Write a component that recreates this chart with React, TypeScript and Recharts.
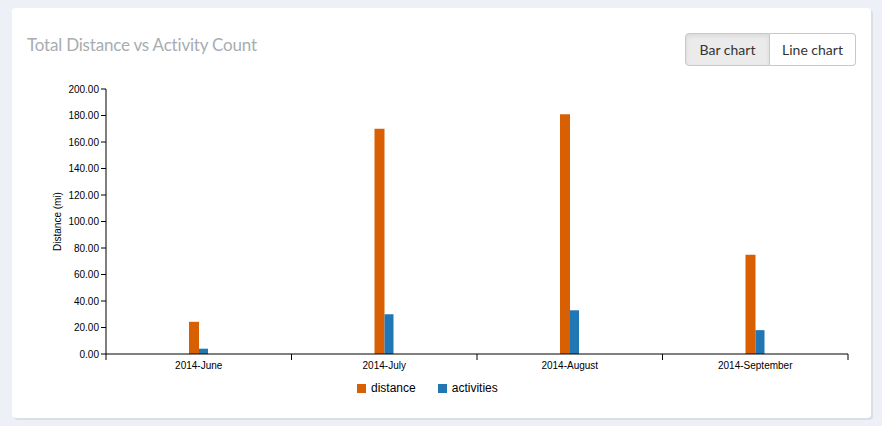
import { BarChart, Bar, XAxis, YAxis } from 'recharts';

const months = ['2014-June', '2014-July', '2014-August', '2014-September'];
const distance = [24.3, 170, 181, 75];
const activities = [4, 30, 33, 18];
const yTicks = [0, 20, 40, 60, 80, 100, 120, 140, 160, 180, 200];

const data = months.map((month, i) => ({
  month,
  distance: distance[i],
  activities: activities[i],
}));

const ORANGE = '#d96002';
const BLUE = '#2077b4';
const AXIS_FONT = '"Liberation Sans", Arial, Helvetica, sans-serif';

// label + tick lines at the band edges (d3 style), not at the band centre
function MonthTick(props: any) {
  const { x, y, payload, index } = props;
  const half = payload.offset || 0;
  const top = y - 8;
  return (
    <g>
      {index === 0 && (
        <line x1={x - half} x2={x - half} y1={top} y2={top + 6} stroke="#000" />
      )}
      <line x1={x + half} x2={x + half} y1={top} y2={top + 6} stroke="#000" />
      <text x={x} y={y} dy="0.71em" textAnchor="middle" fontSize={10} fill="#000" fontFamily={AXIS_FONT}>
        {payload.value}
      </text>
    </g>
  );
}

export default function App() {
  return (
    <div
      style={{
        position: 'absolute',
        left: 0,
        top: 0,
        width: 882,
        height: 426,
        background: '#edf0f7',
        overflow: 'hidden',
      }}
    >
      <div
        style={{
          position: 'absolute',
          left: 12,
          top: 8,
          width: 859,
          height: 410,
          background: '#fff',
          borderRadius: 4,
          boxShadow: '2px 2px 0 #dadee6',
        }}
      />
      <div
        style={{
          position: 'absolute',
          left: 27,
          top: 34,
          fontFamily: 'Lato, sans-serif',
          fontSize: 17,
          color: '#a7adb1',
          letterSpacing: -0.2,
        }}
      >
        Total Distance vs Activity Count
      </div>
      <div
        style={{
          position: 'absolute',
          left: 685,
          top: 33,
          display: 'flex',
          fontFamily: 'Lato, sans-serif',
          fontSize: 14,
          color: '#333',
        }}
      >
        <div
          style={{
            width: 83,
            height: 31,
            lineHeight: '31px',
            textAlign: 'center',
            background: '#ebebeb',
            border: '1px solid #c8c8c8',
            borderRadius: '4px 0 0 4px',
            boxShadow: 'inset 0 2px 4px rgba(0,0,0,0.08)',
            boxSizing: 'content-box',
          }}
        >
          Bar chart
        </div>
        <div
          style={{
            width: 85,
            height: 31,
            lineHeight: '31px',
            textAlign: 'center',
            background: '#fff',
            border: '1px solid #c8c8c8',
            borderLeft: 'none',
            borderRadius: '0 4px 4px 0',
          }}
        >
          Line chart
        </div>
      </div>

      <div style={{ position: 'absolute', left: 0, top: 0 }}>
        <BarChart
          width={882}
          height={426}
          data={data}
          margin={{ top: 89, right: 34, left: 46, bottom: 42 }}
          barGap={0}
          barCategoryGap={0}
        >
          <XAxis
            dataKey="month"
            height={30}
            axisLine={{ stroke: '#000' }}
            tickLine={false}
            tick={<MonthTick />}
            interval={0}
            tickSize={6}
            tickMargin={2}
          />
          <YAxis
            width={60}
            domain={[0, 200]}
            ticks={yTicks}
            interval={0}
            tickFormatter={(v: number) => v.toFixed(2)}
            axisLine={{ stroke: '#000' }}
            tickLine={{ stroke: '#000' }}
            tickSize={5}
            tickMargin={2}
            tick={{ fontSize: 10, fill: '#000', fontFamily: AXIS_FONT }}
            label={{
              value: 'Distance (mi)',
              angle: -90,
              position: 'insideLeft',
              offset: 11,
              style: { fontSize: 10, fill: '#000', fontFamily: AXIS_FONT, textAnchor: 'middle' },
            }}
          />
          <Bar dataKey="distance" fill={ORANGE} barSize={10} isAnimationActive={false} />
          <Bar dataKey="activities" fill={BLUE} barSize={9} isAnimationActive={false} />
        </BarChart>
      </div>

      <div
        style={{
          position: 'absolute',
          left: 357,
          top: 381,
          display: 'flex',
          alignItems: 'center',
          fontFamily: AXIS_FONT,
          fontSize: 12,
          color: '#000',
        }}
      >
        <span style={{ width: 9, height: 9, background: ORANGE, display: 'inline-block', marginRight: 5 }} />
        <span style={{ marginRight: 22 }}>distance</span>
        <span style={{ width: 9, height: 9, background: BLUE, display: 'inline-block', marginRight: 5 }} />
        <span>activities</span>
      </div>
    </div>
  );
}
